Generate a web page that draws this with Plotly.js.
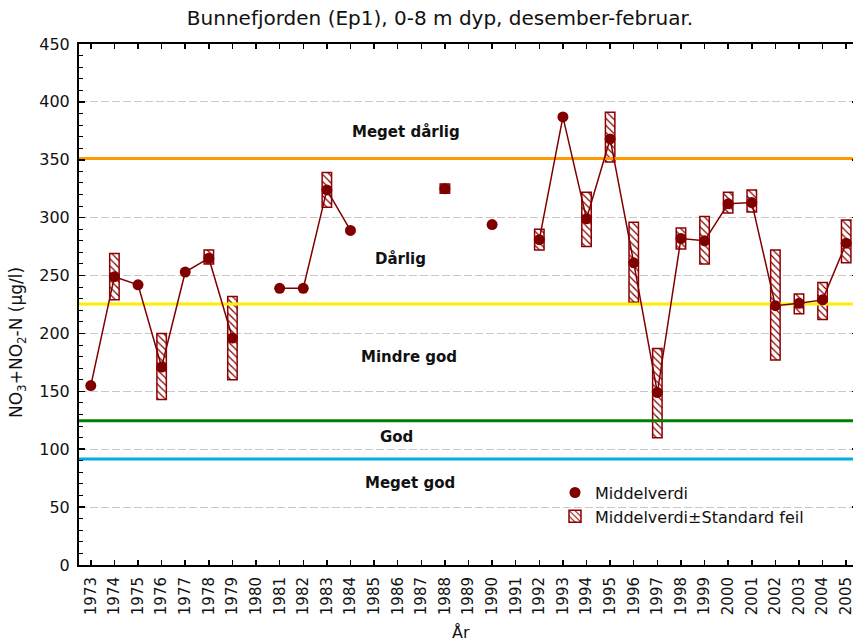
<!DOCTYPE html>
<html>
<head>
<meta charset="utf-8">
<script src="https://cdn.plot.ly/plotly-3.0.1.min.js"></script>
<style>html,body{margin:0;padding:0;background:#fff;overflow:hidden;}#chart{width:858px;height:644px;}</style>
</head>
<body>
<div id="chart"></div>
<script>
// ---- data ----
var years = [1973,1974,1975,1976,1977,1978,1979,1980,1981,1982,1983,1984,1985,1986,1987,1988,1989,1990,1991,1992,1993,1994,1995,1996,1997,1998,1999,2000,2001,2002,2003,2004,2005];
var yearLabels = years.map(function(y){return String(y);});
var meanValues = [155,249,242,171,253,265,196,null,239,239,324,289,null,null,null,325,null,294,null,281,387,299,368,261,149,282,280,312,313,224,226,229,278];
var seLow  = [null,229,null,143,null,260,160,null,null,null,309,null,null,null,null,321,null,null,null,272,null,275,348,227,110,273,260,304,305,177,217,212,261];
var seHigh = [null,269,null,200,null,272,232,null,null,null,339,null,null,null,null,329,null,null,null,290,null,322,391,296,187,291,301,322,324,272,234,244,298];
var classNames  = ["Meget dårlig","Dårlig","Mindre god","God","Meget god"];
var classLimits = [351, 225.5, 124.5, 91.5];
var limitColors = ["#ff9900","#ffee00","#008000","#00b0d8"];
var yTicks = [0,50,100,150,200,250,300,350,400,450];

var xRange = [1972.5, 2005.5];
var darkRed = "#800000";

var boxHeight = seHigh.map(function(h,i){ return (h===null||seLow[i]===null)?null:h-seLow[i]; });

var traces = [];
traces.push({
  type:"bar", x:years, y:boxHeight, base:seLow, width:0.4,
  name:"Middelverdi±Standard feil", legendrank:2,
  marker:{color:"white", line:{color:"#8b0000", width:1.5},
          pattern:{shape:"\\", fgcolor:"#8b0000", bgcolor:"white", size:5, solidity:0.25}},
  hoverinfo:"skip"
});
classLimits.forEach(function(v,i){
  traces.push({type:"scatter", mode:"lines", x:xRange, y:[v,v], showlegend:false,
    line:{color:limitColors[i], width:3}, hoverinfo:"skip"});
});
traces.push({
  type:"scatter", mode:"lines+markers", x:years, y:meanValues, connectgaps:false,
  name:"Middelverdi", showlegend:false,
  line:{color:darkRed, width:1.5}, marker:{color:darkRed, size:11, symbol:"circle"}
});
// legend-only entry (marker symbol without line, as in the reference legend)
traces.push({
  type:"scatter", mode:"markers", x:[null], y:[null], name:"Middelverdi", legendrank:1,
  marker:{color:darkRed, size:11, symbol:"circle"}, hoverinfo:"skip"
});

var W = 779; // plot width in px
var classPos = [[(406-79)/W,0.831],[(400-79)/W,0.587],[(409-79)/W,0.399],[(396.7-79)/W,0.2457],[(409.5-79)/W,0.157]];
var annotations = classNames.map(function(t,i){
  return {text:t, xref:"paper", yref:"paper", x:classPos[i][0], y:classPos[i][1],
    showarrow:false, xanchor:"center", yanchor:"middle",
    font:{family:"DejaVu Sans", size:15, color:"#111", weight:"bold"}};
});
annotations.push({text:"NO<sub>3</sub>+NO<sub>2</sub>-N (µg/l)", xref:"paper", yref:"paper",
  x:(18-79)/W, y:(565-343)/521, textangle:-90, showarrow:false, xanchor:"center", yanchor:"middle",
  font:{family:"DejaVu Sans", size:17, color:"#111"}});
annotations.push({text:"År", xref:"paper", yref:"paper", x:(461-79)/W, y:-(632-565)/521,
  showarrow:false, xanchor:"center", yanchor:"middle", font:{family:"DejaVu Sans", size:16, color:"#111"}});

var layout = {
  width:858, height:644,
  margin:{l:79, r:0, t:44, b:79},
  paper_bgcolor:"white", plot_bgcolor:"white",
  title:{text:"Bunnefjorden (Ep1), 0-8 m dyp, desember-februar.", xref:"container", yref:"container",
    x:440/858, y:1-18/644, xanchor:"center", yanchor:"middle",
    font:{family:"DejaVu Sans", size:20, color:"#111"}},
  xaxis:{range:xRange, tickvals:years, ticktext:yearLabels, tickangle:-90,
    ticks:"inside", ticklen:5, tickwidth:1.5, tickcolor:"black",
    showline:true, linecolor:"black", linewidth:2, mirror:"ticks",
    showgrid:false, zeroline:false, ticklabelstandoff:4,
    tickfont:{family:"DejaVu Sans", size:15, color:"#111"}},
  yaxis:{range:[0,450], tickvals:yTicks, ticks:"inside", ticklen:6, tickwidth:1.5, tickcolor:"black",
    minor:{dtick:10, ticks:"inside", ticklen:4, tickcolor:"black", tickwidth:1, showgrid:false},
    showline:true, linecolor:"black", linewidth:2, mirror:"ticks",
    showgrid:true, gridcolor:"#c8c8c8", gridwidth:1, griddash:"8px,3px", zeroline:false,
    ticklabelstandoff:4,
    tickfont:{family:"DejaVu Sans", size:16, color:"#111"}},
  showlegend:true,
  legend:{x:(555-79)/W, y:0.1716, xanchor:"left", yanchor:"top", bgcolor:"rgba(0,0,0,0)",
    font:{family:"DejaVu Sans", size:16, color:"#111"}, tracegroupgap:0, itemwidth:30},
  annotations:annotations,
  bargap:0
};
Plotly.newPlot("chart", traces, layout, {displayModeBar:false, staticPlot:true});
</script>
</body>
</html>
